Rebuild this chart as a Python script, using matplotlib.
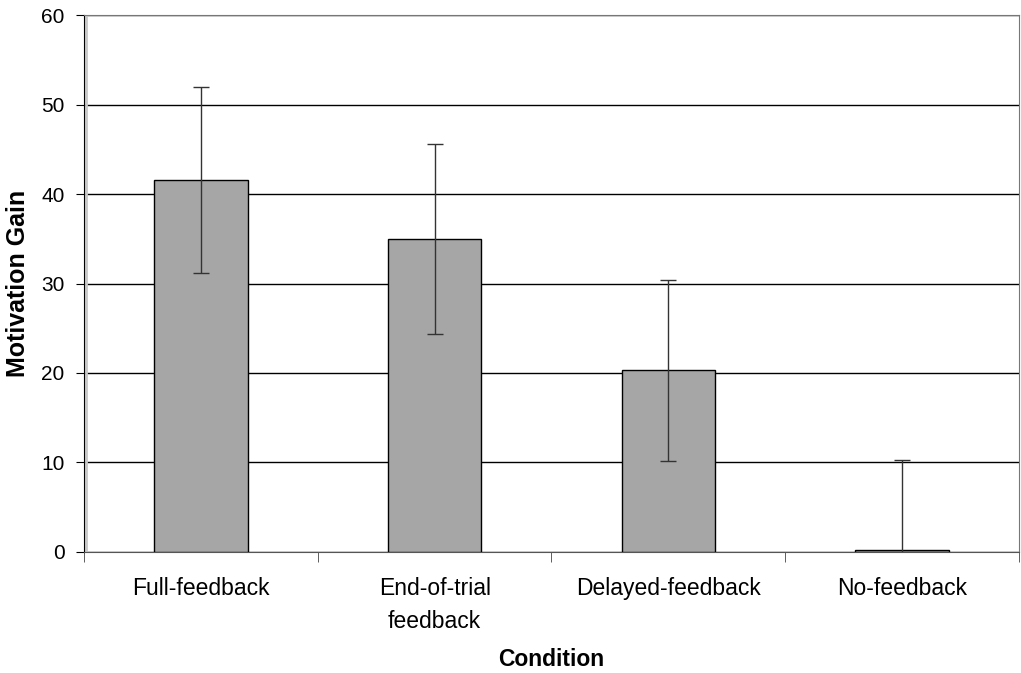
import numpy as np
import matplotlib.pyplot as plt

conditions = ['Full-feedback', 'End-of-trial\nfeedback', 'Delayed-feedback', 'No-feedback']
gain = [41.6, 35.0, 20.3, 0.2]
err = [10.4, 10.6, 10.1, 10.1]

plt.rcParams['font.family'] = ['Liberation Sans', 'DejaVu Sans']

fig = plt.figure(figsize=(10.21, 6.73), dpi=100)
ax = fig.add_axes([0.0823, 0.1798, 0.9157, 0.7979])

x = np.arange(len(conditions))
ax.bar(x, gain, width=0.4, color='#a6a6a6', edgecolor='black', linewidth=1.0, zorder=3)
ax.errorbar(x, gain, yerr=err, fmt='none', ecolor='#333333', elinewidth=1.0,
            capsize=6, capthick=1.0, zorder=4)

ax.set_xlim(-0.5, len(conditions) - 0.5)
ax.set_ylim(0, 60)
ax.set_yticks(range(0, 61, 10))
ax.yaxis.grid(True, color='black', linewidth=1.0, zorder=0)
ax.set_axisbelow(True)
# light shadow just inside the left axis line
ax.axvline(-0.5 + 0.008, color='#c8c8c8', linewidth=2, zorder=1)

ax.set_xticks(x)
ax.set_xticklabels(conditions, fontsize=16.5, linespacing=1.55)
ax.tick_params(axis='x', length=0, pad=18)
ax.set_xticks(np.arange(-0.5, len(conditions)), minor=True)
ax.tick_params(axis='x', which='minor', length=7, direction='out', color='#444444')
ax.tick_params(axis='y', labelsize=15, length=6, direction='out', pad=8)

ax.spines['left'].set_color('black')
ax.spines['bottom'].set_color('#555555')
ax.spines['right'].set_color('#777777')
ax.spines['top'].set_color('#777777')

ax.set_xlabel('Condition', fontsize=16.5, fontweight='bold', labelpad=11)
ax.set_ylabel('Motivation Gain', fontsize=18, fontweight='bold', labelpad=8)

fig.savefig('out.png', dpi=100)
